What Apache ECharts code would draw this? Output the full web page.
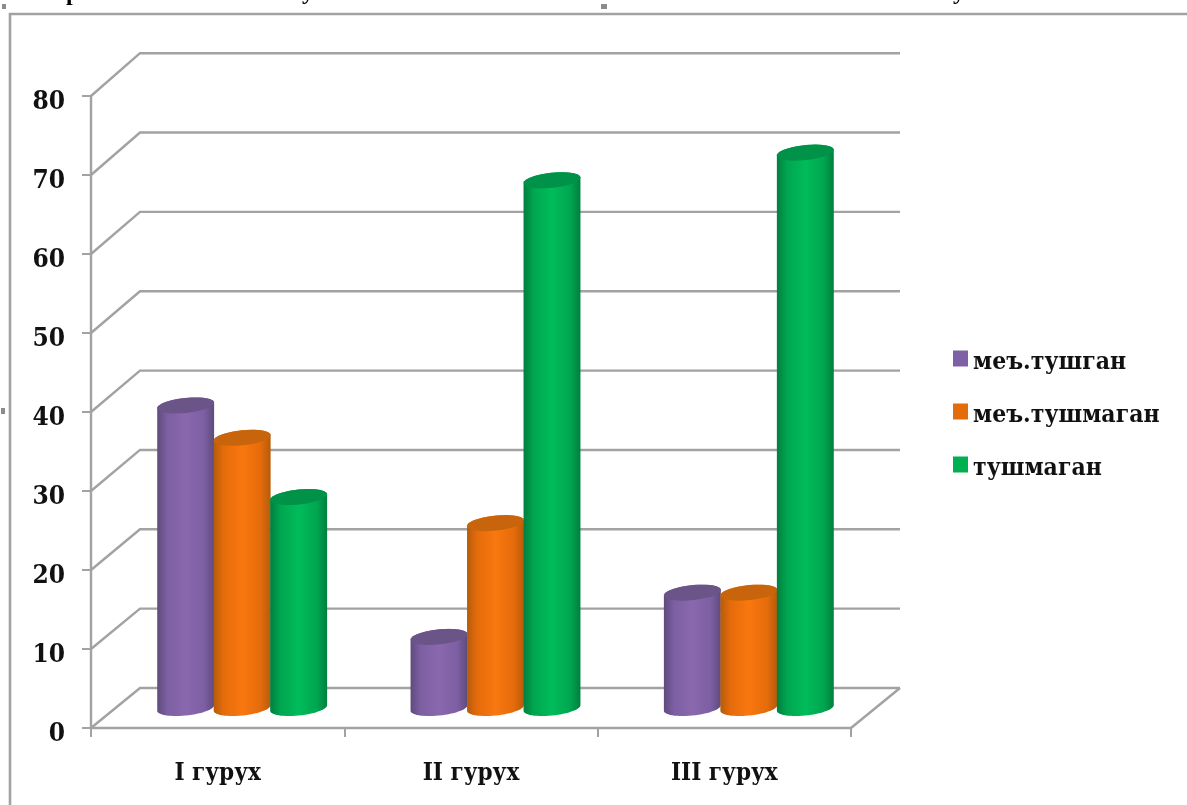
<!DOCTYPE html>
<html>
<head>
<meta charset="utf-8">
<style>html,body{margin:0;padding:0;background:#fff}#chart{width:1187px;height:805px}</style>
<script src="https://cdn.jsdelivr.net/npm/echarts@6/dist/echarts.min.js"></script>
</head>
<body>
<div id="chart"></div>
<script>
// Group labels and percentages for the three response types
const categories = ['I гурух', 'II гурух', 'III гурух'];
const meTushgan = [38.3, 9, 14.6];
const meTushmagan = [34.2, 23.4, 14.6];
const tushmagan = [26.7, 66.8, 70.3];
const seriesNames = ['меъ.тушган', 'меъ.тушмаган', 'тушмаган'];
const wallTicks = [0, 10, 20, 30, 40, 50, 60, 70, 80];

const FONT = '"DejaVu Serif Condensed","DejaVu Serif",serif';
const GREY = '#a2a2a2';
const INK = '#111111';

// Oblique projection of the chart box: back wall offset from the front plane,
// with the wall drawn very slightly taller than the front edge
const DEPTH_X = 49, DEPTH_Y = -40, WALL_RISE = 0.035;
// Cylinder cross-section as seen from above, slightly rotated
const RX = 28.6, RY = 7.5, TILT = -6 * Math.PI / 180;
const BAR_SHARE = 0.223;

const palettes = [
  { edge: '#5f4b7c', mid: '#7d5fa3', light: '#8a68ae', cap: '#6a5488', key: '#7f60a5' },
  { edge: '#b65b0c', mid: '#e56c0b', light: '#f9770f', cap: '#c8650c', key: '#e46c0a' },
  { edge: '#007f40', mid: '#00a650', light: '#00bc5a', cap: '#009249', key: '#00b050' }
];

function arc(cx, cy, from, to) {
  const pts = [];
  const n = 28;
  for (let k = 0; k <= n; k++) {
    const t = from + (to - from) * k / n;
    pts.push([
      cx + RX * Math.cos(t) * Math.cos(TILT) - RY * Math.sin(t) * Math.sin(TILT),
      cy + RX * Math.cos(t) * Math.sin(TILT) + RY * Math.sin(t) * Math.cos(TILT)
    ]);
  }
  return pts;
}

function cylinderRenderer(seriesIdx) {
  const pal = palettes[seriesIdx];
  return function (params, api) {
    const band = api.size([1, 0])[0];
    const offset = (seriesIdx - 1) * band * BAR_SHARE + DEPTH_X / 2;
    const base = api.coord([api.value(0), 0]);
    const top = api.coord([api.value(0), api.value(1)]);
    const cx = base[0] + offset;
    const by = base[1] + DEPTH_Y / 2;
    const ty = top[1] + DEPTH_Y / 2;
    const t0 = Math.atan2(-RY * Math.sin(TILT), RX * Math.cos(TILT));
    const body = arc(cx, by, t0, t0 + Math.PI).concat(arc(cx, ty, t0 + Math.PI, t0 + 2 * Math.PI));
    return {
      type: 'group',
      children: [
        {
          type: 'polygon',
          shape: { points: body },
          style: {
            fill: {
              type: 'linear', x: 0, y: 0, x2: 1, y2: 0,
              colorStops: [
                { offset: 0, color: pal.edge },
                { offset: 0.18, color: pal.mid },
                { offset: 0.5, color: pal.light },
                { offset: 0.82, color: pal.mid },
                { offset: 1, color: pal.edge }
              ]
            }
          }
        },
        {
          type: 'polygon',
          shape: { points: arc(cx, ty, 0, 2 * Math.PI) },
          style: { fill: pal.cap }
        }
      ]
    };
  };
}

function wallRenderer(params, api) {
  const v = api.value(1);
  const p = api.coord([0, v]);
  const left = params.coordSys.x;
  const right = left + params.coordSys.width;
  const backY = p[1] + DEPTH_Y - v * WALL_RISE;
  const line = pts => ({
    type: 'polyline',
    shape: { points: pts },
    style: { stroke: GREY, lineWidth: 2.4, fill: 'none' }
  });
  const children = [line([
    [left, p[1]],
    [left + DEPTH_X, backY],
    [right + DEPTH_X, backY]
  ])];
  if (v === 0) {
    children.push(line([[right, p[1]], [right + DEPTH_X, backY]]));
  }
  return { type: 'group', children };
}

const valueSets = [meTushgan, meTushmagan, tushmagan];

const cylinderSeries = seriesNames.map((name, s) => ({
  type: 'custom',
  name,
  clip: false,
  animation: false,
  z: 3,
  itemStyle: { color: palettes[s].key },
  encode: { x: 0, y: 1 },
  data: valueSets[s].map((v, i) => [i, v]),
  renderItem: cylinderRenderer(s)
}));

const chart = echarts.init(document.getElementById('chart'), null, { renderer: 'canvas' });

chart.setOption({
  animation: false,
  backgroundColor: '#ffffff',
  grid: { left: 91, right: 336, top: 96, bottom: 77 },
  xAxis: {
    type: 'category',
    data: categories,
    axisLine: { lineStyle: { color: GREY, width: 2.4 } },
    axisTick: { show: true, length: 9, lineStyle: { color: GREY, width: 2 } },
    axisLabel: { color: INK, fontFamily: FONT, fontWeight: 'bold', fontSize: 24, margin: 34 }
  },
  yAxis: {
    type: 'value',
    min: 0,
    max: 80,
    interval: 10,
    splitLine: { show: false },
    axisLine: { show: true, lineStyle: { color: GREY, width: 2.4 } },
    axisTick: { show: true, length: 9, lineStyle: { color: GREY, width: 2 } },
    axisLabel: { color: INK, fontFamily: FONT, fontWeight: 'bold', fontSize: 26, margin: 26, verticalAlign: 'top', lineHeight: 13 }
  },
  legend: {
    left: 953,
    top: 350,
    padding: 0,
    orient: 'vertical',
    data: seriesNames,
    icon: 'rect',
    itemWidth: 15,
    itemHeight: 16,
    itemGap: 28,
    formatter: name => '{t|' + name + '}',
    textStyle: {
      rich: {
        t: { color: INK, fontFamily: FONT, fontWeight: 'bold', fontSize: 24.5, padding: [8, 0, 0, 0] }
      }
    }
  },
  graphic: [
    // Page frame around the chart and the selection handles beside it
    { type: 'polyline', shape: { points: [[10, 805], [10, 14], [1187, 14]] }, style: { stroke: GREY, lineWidth: 2.6, fill: 'none' } },
    { type: 'rect', shape: { x: 2, y: 4, width: 4, height: 5 }, style: { fill: '#8c8c8c' } },
    { type: 'rect', shape: { x: 601, y: 4, width: 6, height: 5 }, style: { fill: '#8c8c8c' } },
    { type: 'rect', shape: { x: 1, y: 408, width: 4, height: 6 }, style: { fill: '#8c8c8c' } },
    // Tails of the line of body text running above the frame
    { type: 'text', style: { x: 66, y: -18, text: 'р', font: 'bold 24px "Liberation Serif"', fill: '#000' } },
    { type: 'text', style: { x: 302, y: -19, text: 'у', font: 'bold 24px "Liberation Serif"', fill: '#000' } },
    { type: 'text', style: { x: 953, y: -19, text: 'у', font: 'bold 24px "Liberation Serif"', fill: '#000' } }
  ],
  series: [
    {
      type: 'custom',
      name: 'wall',
      clip: false,
      animation: false,
      silent: true,
      z: 1,
      encode: { x: 0, y: 1 },
      data: wallTicks.map(v => [0, v]),
      renderItem: wallRenderer
    }
  ].concat(cylinderSeries)
});
</script>
</body>
</html>
